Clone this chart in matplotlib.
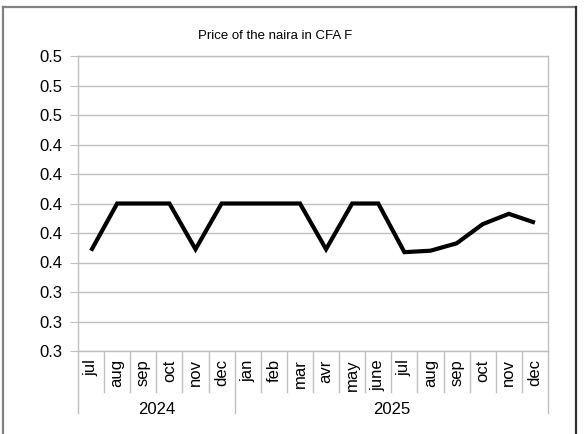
import matplotlib.pyplot as plt
import matplotlib.transforms as mtransforms
from matplotlib.lines import Line2D
from matplotlib.ticker import FuncFormatter, MultipleLocator

months = ["jul", "aug", "sep", "oct", "nov", "dec",
          "jan", "feb", "mar", "avr", "may", "june",
          "jul", "aug", "sep", "oct", "nov", "dec"]
years = ["2024", "2025"]
year_sizes = [6, 12]
price = [0.368, 0.400, 0.400, 0.400, 0.369, 0.400,
         0.400, 0.400, 0.400, 0.369, 0.400, 0.400,
         0.367, 0.368, 0.373, 0.386, 0.393, 0.387]

plt.rcParams['font.family'] = ['Liberation Sans', 'DejaVu Sans']

fig = plt.figure(figsize=(5.84, 4.34), dpi=100)
ax = fig.add_axes([78 / 584, 1 - 351 / 434, 470 / 584, 295 / 434])

x = list(range(len(months)))
ax.plot(x, price, color="black", lw=3.0, solid_joinstyle="miter",
        solid_capstyle="butt", zorder=3)

ax.set_xlim(-0.5, len(months) - 0.5)
ax.set_ylim(0.30, 0.50)
ax.yaxis.set_major_locator(MultipleLocator(0.02))
ax.yaxis.set_major_formatter(FuncFormatter(lambda v, p: "{:.1f}".format(v)))
ax.grid(axis="y", color="#c0c0c0", lw=1)
ax.set_axisbelow(True)
for s in ax.spines.values():
    s.set_color("#c0c0c0")
    s.set_linewidth(1)
ax.tick_params(axis="y", length=6, color="#c0c0c0", pad=5, labelsize=12)

ax.set_xticks(x)
ax.set_xticklabels(months, rotation=90, va="top", ha="center", fontsize=12)
ax.tick_params(axis="x", length=0, pad=6)

# category separators and year groups below the axis
trans = mtransforms.blended_transform_factory(ax.transData, ax.transAxes)
bounds = [-0.5]
for n in year_sizes:
    bounds.append(bounds[-1] + n)
for i in range(len(months) + 1):
    xs = i - 0.5
    y1 = -0.21 if xs in bounds else -0.139
    ax.add_line(Line2D([xs, xs], [0, y1], transform=trans, color="#c0c0c0",
                       lw=1, clip_on=False))
for k, yr in enumerate(years):
    ax.text((bounds[k] + bounds[k + 1]) / 2, -0.2, yr, transform=trans,
            ha="center", va="center", fontsize=12)

fig.text(275 / 584, 1 - 36 / 434, "Price of the naira in CFA F",
         ha="center", va="center", fontsize=9.5)

# chart frame
fig.add_artist(Line2D([3 / 584, 3 / 584], [0, 1 - 7 / 434], color="#808080", lw=1.6))
fig.add_artist(Line2D([3 / 584, 576 / 584], [1 - 7 / 434, 1 - 7 / 434], color="#808080", lw=1.6))
fig.add_artist(Line2D([576 / 584, 576 / 584], [0, 1 - 7 / 434], color="#303030", lw=1.6))

fig.savefig("out.png", dpi=100)
